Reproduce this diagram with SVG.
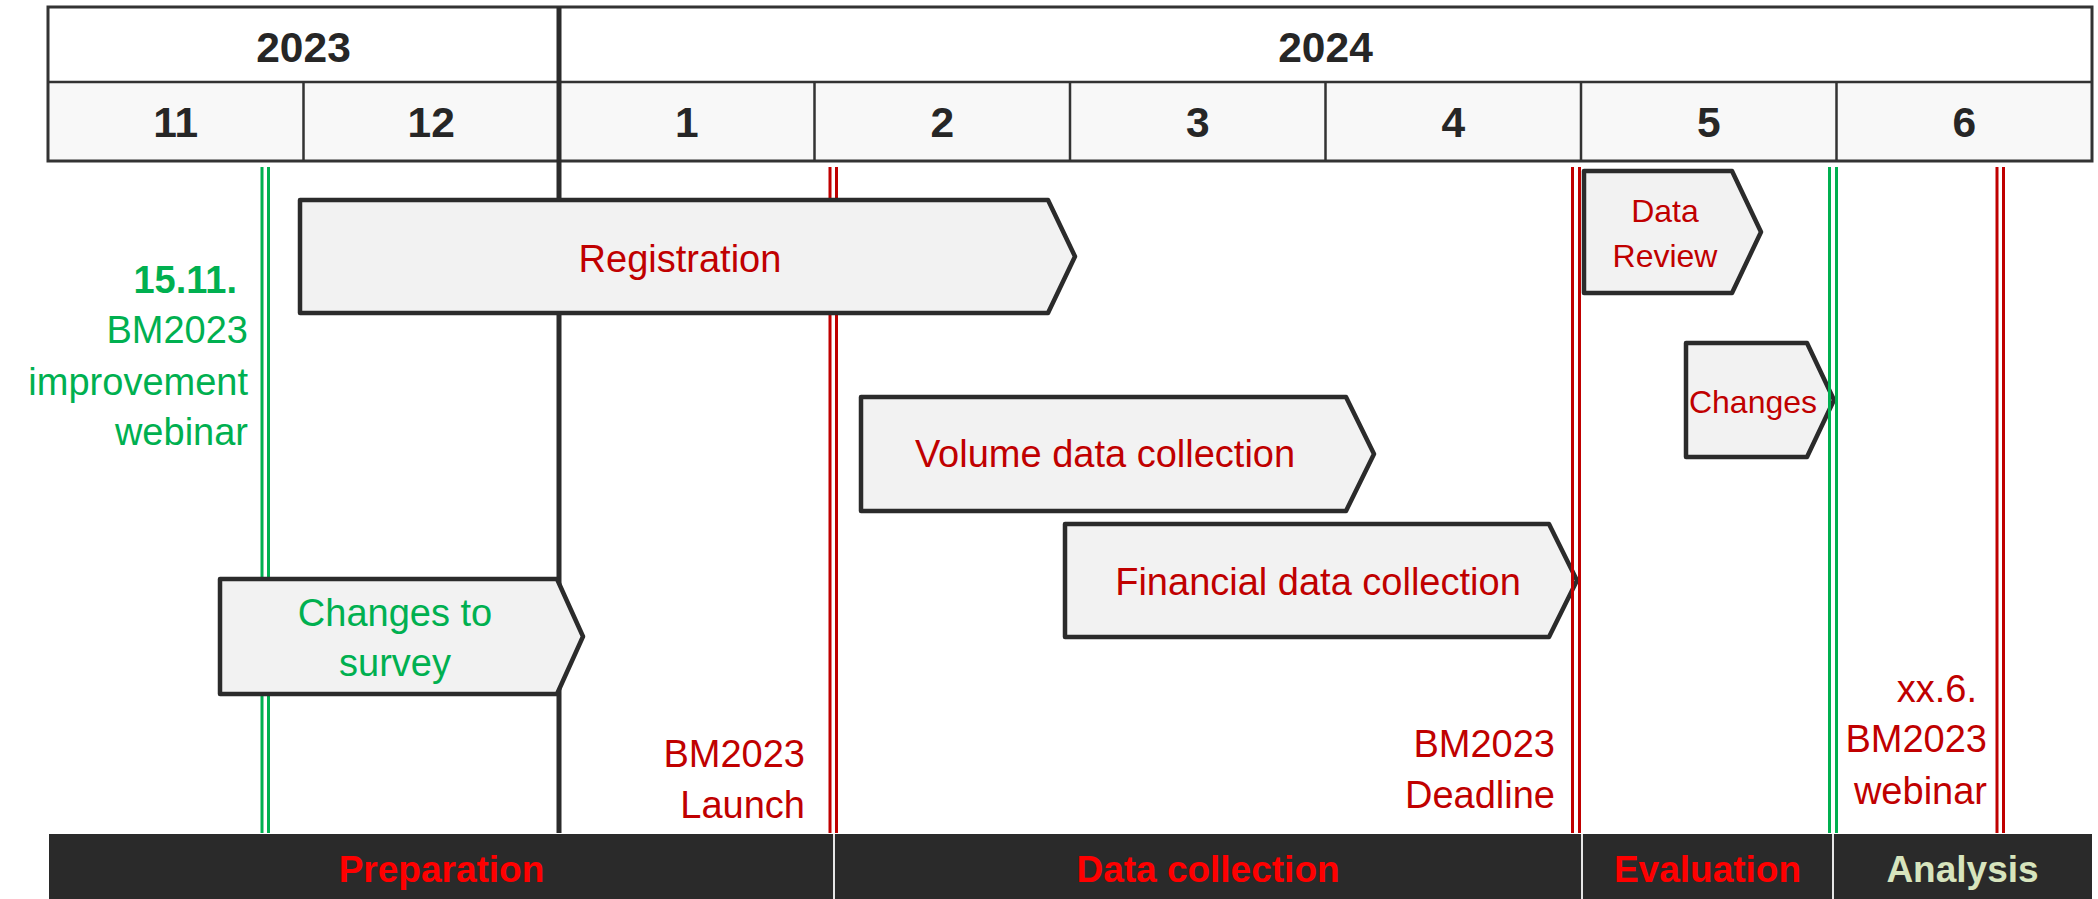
<svg xmlns="http://www.w3.org/2000/svg" width="2098" height="899" viewBox="0 0 2098 899">
<style>
.t{font-family:"Liberation Sans",Arial,sans-serif}
.hdr{font-weight:bold;font-size:42.5px;fill:#262626;text-anchor:middle}
.grid{stroke:#333;stroke-width:3;fill:none}
.sep{stroke:#333;stroke-width:2.5}
.shape{fill:#f2f2f2;stroke:#2b2b2b;stroke-width:4.5;stroke-linejoin:round}
.lbl{font-size:38px;fill:#c00000;text-anchor:middle}
.lbls{font-size:32px;fill:#c00000;text-anchor:middle}
.grn{fill:#00b050}
.red{stroke:#c00000;stroke-width:3}
.gl{stroke:#00b050;stroke-width:3}
.ms{font-size:38px;text-anchor:end}
.phase{font-weight:bold;font-size:37px;text-anchor:middle}
</style>
<rect width="2098" height="899" fill="#fff"/>
<g id="timeline-header">
<rect x="48" y="82" width="2044" height="79" fill="#f8f8f8"/>
<rect x="48" y="7" width="2044" height="154" class="grid"/>
<line x1="48" y1="82" x2="2092" y2="82" class="sep"/>
<g class="sep">
<line x1="303.5" y1="82" x2="303.5" y2="161"/>
<line x1="814.5" y1="82" x2="814.5" y2="161"/>
<line x1="1070" y1="82" x2="1070" y2="161"/>
<line x1="1325.5" y1="82" x2="1325.5" y2="161"/>
<line x1="1581" y1="82" x2="1581" y2="161"/>
<line x1="1836.5" y1="82" x2="1836.5" y2="161"/>
</g>
<text class="t hdr" x="303.5" y="62">2023</text>
<text class="t hdr" x="1325.5" y="62">2024</text>
<text class="t hdr" x="175.75" y="137">11</text>
<text class="t hdr" x="431.25" y="137">12</text>
<text class="t hdr" x="686.75" y="137">1</text>
<text class="t hdr" x="942.25" y="137">2</text>
<text class="t hdr" x="1197.75" y="137">3</text>
<text class="t hdr" x="1453.25" y="137">4</text>
<text class="t hdr" x="1708.75" y="137">5</text>
<text class="t hdr" x="1964.25" y="137">6</text>
</g>
<g id="connectors">
<line x1="559" y1="7" x2="559" y2="833" stroke="#2b2b2b" stroke-width="5"/>
<line x1="262" y1="167" x2="262" y2="833" class="gl"/>
<line x1="268.5" y1="167" x2="268.5" y2="833" class="gl"/>
<line x1="830" y1="167" x2="830" y2="833" class="red"/>
<line x1="836.5" y1="167" x2="836.5" y2="833" class="red"/>
</g>
<g id="registration">
<path class="shape" d="M300 200 H1048 L1075 256.5 L1048 313 H300 Z"/>
<text class="t lbl" x="680" y="272">Registration</text>
</g>
<g id="volume-data-collection">
<path class="shape" d="M861 397 H1346 L1374 454 L1346 511 H861 Z"/>
<text class="t lbl" x="1105" y="467">Volume data collection</text>
</g>
<g id="financial-data-collection">
<path class="shape" d="M1065 524 H1549 L1577 580.5 L1549 637 H1065 Z"/>
<text class="t lbl" x="1318" y="595">Financial data collection</text>
</g>
<g id="changes-to-survey">
<path class="shape" d="M220 579 H557 L583 636.5 L557 694 H220 Z"/>
<text class="t lbl grn" x="395" y="626">Changes to</text>
<text class="t lbl grn" x="395" y="676">survey</text>
</g>
<g id="data-review">
<path class="shape" d="M1584 171 H1732 L1761 232 L1732 293 H1584 Z"/>
<text class="t lbls" x="1665" y="222">Data</text>
<text class="t lbls" x="1665" y="267">Review</text>
</g>
<g id="changes">
<path class="shape" d="M1686 343 H1807 L1834 400 L1807 457 H1686 Z"/>
<text class="t lbls" x="1753" y="413">Changes</text>
</g>
<g id="milestone-lines">
<line x1="1572.5" y1="167" x2="1572.5" y2="833" class="red"/>
<line x1="1579.5" y1="167" x2="1579.5" y2="833" class="red"/>
<line x1="1829.5" y1="167" x2="1829.5" y2="833" class="gl"/>
<line x1="1836.5" y1="167" x2="1836.5" y2="833" class="gl"/>
<line x1="1997" y1="167" x2="1997" y2="833" class="red"/>
<line x1="2003.5" y1="167" x2="2003.5" y2="833" class="red"/>
</g>
<g id="milestone-webinar-improvement" class="t ms grn">
<text x="237" y="293" font-weight="bold">15.11.</text>
<text x="248" y="343">BM2023</text>
<text x="248" y="395">improvement</text>
<text x="248" y="445">webinar</text>
</g>
<g id="milestone-launch" class="t ms" fill="#c00000">
<text x="805" y="767">BM2023</text>
<text x="805" y="818">Launch</text>
</g>
<g id="milestone-deadline" class="t ms" fill="#c00000">
<text x="1555" y="757">BM2023</text>
<text x="1555" y="808">Deadline</text>
</g>
<g id="milestone-webinar" class="t ms" fill="#c00000">
<text x="1977" y="702">xx.6.</text>
<text x="1987" y="752">BM2023</text>
<text x="1987" y="804">webinar</text>
</g>
<g id="phases">
<rect x="49" y="834" width="2043" height="65" fill="#2a2a2a"/>
<g stroke="#e6e6e6" stroke-width="2">
<line x1="834" y1="834" x2="834" y2="899"/>
<line x1="1582" y1="834" x2="1582" y2="899"/>
<line x1="1833" y1="834" x2="1833" y2="899"/>
</g>
<text class="t phase" x="441.5" y="882" fill="#ff0000">Preparation</text>
<text class="t phase" x="1208" y="882" fill="#ff0000">Data collection</text>
<text class="t phase" x="1707.5" y="882" fill="#ff0000">Evaluation</text>
<text class="t phase" x="1962.5" y="882" fill="#d7e4bd">Analysis</text>
</g>
</svg>
